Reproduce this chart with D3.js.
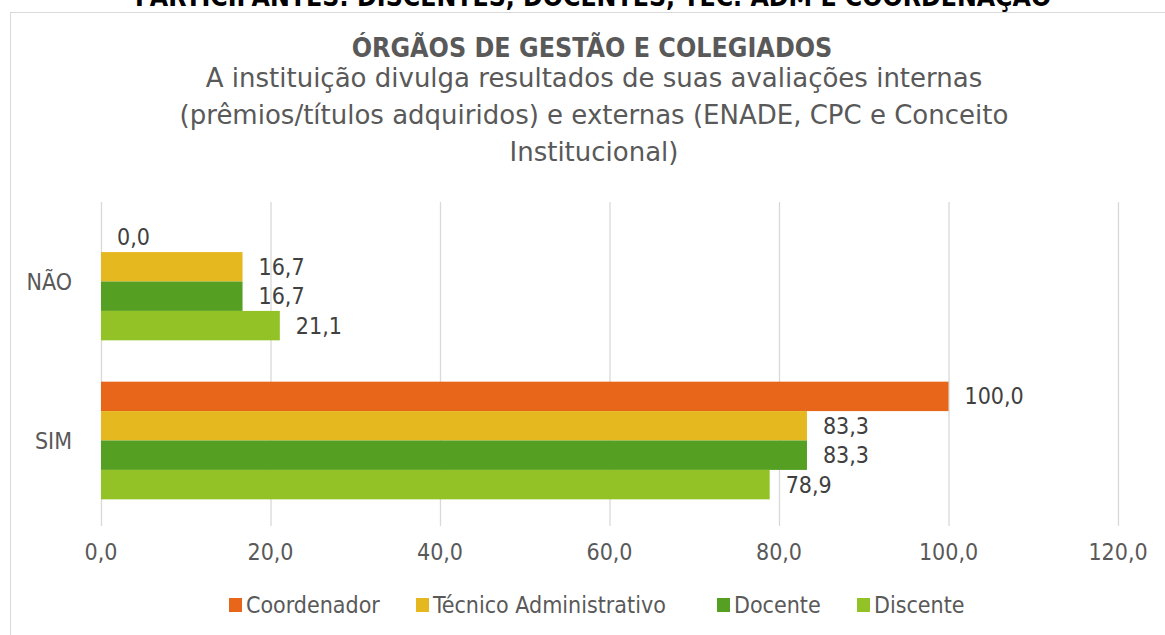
<!DOCTYPE html>
<html>
<head>
<meta charset="utf-8">
<script src="https://cdn.jsdelivr.net/npm/d3@7"></script>
<style>
  body { margin: 0; background: #fff; }
  text { font-family: "DejaVu Sans Condensed", "DejaVu Sans", sans-serif; }
</style>
</head>
<body>
<div id="chart"></div>
<script>
  // data
  const categories = ["NÃO", "SIM"];
  const seriesNames = ["Coordenador", "Técnico Administrativo", "Docente", "Discente"];
  const coordenador = [0.0, 100.0];
  const tecnico = [16.7, 83.3];
  const docente = [16.7, 83.3];
  const discente = [21.1, 78.9];
  const xTicks = [0, 20, 40, 60, 80, 100, 120];
  const colors = ["#E8661A", "#E6B820", "#55A023", "#93C226"];

  const width = 1165;
  const height = 635;
  const margin = { top: 202, right: 47, bottom: 115, left: 101 };

  const svg = d3.select("#chart")
    .append("svg")
    .attr("width", width)
    .attr("height", height);

  // chart frame
  svg.append("rect")
    .attr("x", 10.5)
    .attr("y", 12.5)
    .attr("width", 1170)
    .attr("height", 640)
    .attr("fill", "#fff")
    .attr("stroke", "#d9d9d9");

  // heading above the frame, cut off at the top like the source
  svg.append("text")
    .attr("x", 593)
    .attr("y", 6)
    .attr("text-anchor", "middle")
    .style("font-size", "26.4px")
    .style("font-weight", "bold")
    .attr("fill", "#000")
    .text("PARTICIPANTES: DISCENTES, DOCENTES, TEC. ADM E COORDENAÇÃO");

  // titles
  svg.append("text")
    .attr("x", 592)
    .attr("y", 57)
    .attr("text-anchor", "middle")
    .style("font-size", "26.6px")
    .style("font-weight", "bold")
    .attr("fill", "#595959")
    .text("ÓRGÃOS DE GESTÃO E COLEGIADOS");

  const subLines = [
    "A instituição divulga resultados de suas avaliações internas",
    "(prêmios/títulos adquiridos) e externas (ENADE, CPC e Conceito",
    "Institucional)"
  ];
  subLines.forEach((t, i) => {
    svg.append("text")
      .attr("x", 594)
      .attr("y", 87 + i * 37)
      .attr("text-anchor", "middle")
      .style("font-family", "'DejaVu Sans', sans-serif")
      .style("font-size", "26px")
      .attr("fill", "#595959")
      .text(t);
  });

  const innerW = width - margin.left - margin.right;
  const innerH = height - margin.top - margin.bottom;
  const g = svg.append("g").attr("transform", `translate(${margin.left},${margin.top})`);

  const x = d3.scaleLinear().domain([0, 120]).range([0, innerW]);
  const y = d3.scaleBand().domain(categories).range([0, innerH]).paddingInner(0.26).paddingOuter(0.13);
  const ySub = d3.scaleBand().domain(seriesNames).range([0, y.bandwidth()]);

  // gridlines
  g.selectAll(".grid")
    .data(xTicks)
    .enter()
    .append("line")
    .attr("x1", d => x(d) + 0.5)
    .attr("x2", d => x(d) + 0.5)
    .attr("y1", 0)
    .attr("y2", innerH + 6)
    .attr("stroke", "#d9d9d9")
    .attr("stroke-width", 1.3);

  // tick labels
  g.selectAll(".tick-label")
    .data(xTicks)
    .enter()
    .append("text")
    .attr("x", d => x(d))
    .attr("y", innerH + 40)
    .attr("text-anchor", "middle")
    .style("font-size", "23px")
    .attr("fill", "#595959")
    .text(d => d3.format(".1f")(d).replace(".", ","));

  // category labels
  g.selectAll(".cat")
    .data(categories)
    .enter()
    .append("text")
    .attr("x", -29)
    .attr("y", d => y(d) + y.bandwidth() / 2 + 8)
    .attr("text-anchor", "end")
    .style("font-size", "23px")
    .attr("fill", "#595959")
    .text(d => d);

  const allSeries = [coordenador, tecnico, docente, discente];
  const rows = [];
  categories.forEach((c, ci) => {
    seriesNames.forEach((s, si) => {
      rows.push({ cat: c, series: s, value: allSeries[si][ci], color: colors[si] });
    });
  });

  g.selectAll(".bar")
    .data(rows)
    .enter()
    .append("rect")
    .attr("x", 0)
    .attr("y", d => y(d.cat) + ySub(d.series))
    .attr("width", d => x(d.value))
    .attr("height", ySub.bandwidth())
    .attr("fill", d => d.color);

  g.selectAll(".val")
    .data(rows)
    .enter()
    .append("text")
    .attr("x", d => x(d.value) + 16)
    .attr("y", d => y(d.cat) + ySub(d.series) + ySub.bandwidth() / 2 + 8)
    .style("font-size", "23px")
    .attr("fill", "#404040")
    .text(d => d3.format(".1f")(d.value).replace(".", ","));

  // legend
  const legendX = [229, 416, 717, 857];
  const legend = svg.selectAll(".legend")
    .data(seriesNames)
    .enter()
    .append("g")
    .attr("transform", (d, i) => `translate(${legendX[i]},598)`);
  legend.append("rect")
    .attr("width", 13)
    .attr("height", 14)
    .attr("fill", (d, i) => colors[i]);
  legend.append("text")
    .attr("x", 17)
    .attr("y", 15)
    .style("font-size", "23px")
    .attr("fill", "#595959")
    .text(d => d);
</script>
</body>
</html>
